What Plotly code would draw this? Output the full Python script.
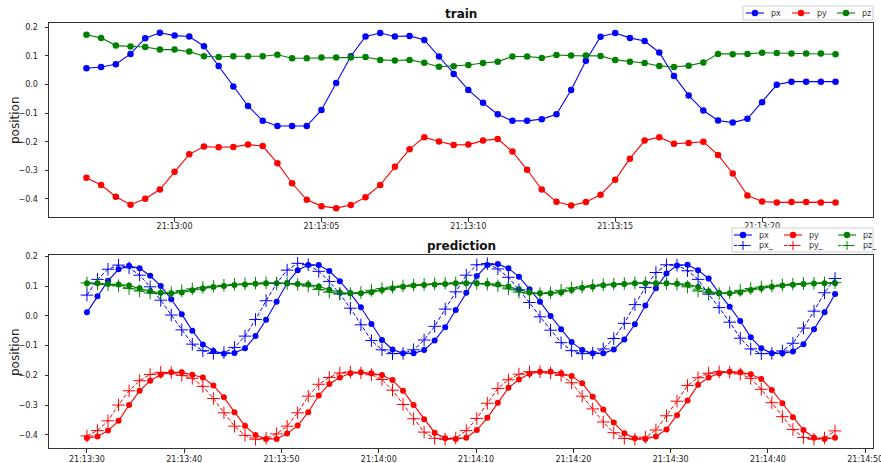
import pandas as pd
import plotly.graph_objects as go

W, H = 881, 463

# ---------------- data ----------------
train_time = pd.date_range("2021-01-01 21:12:57", periods=52, freq="500ms")
train_px = [0.057, 0.061, 0.071, 0.107, 0.162, 0.181, 0.171, 0.168, 0.134, 0.065,
            -0.007, -0.075, -0.127, -0.145, -0.145,
            -0.145, -0.089, 0.005, 0.099, 0.168, 0.180, 0.168, 0.170, 0.156, 0.098,
            0.037, -0.019, -0.064, -0.104, -0.127, -0.127, -0.121, -0.104, -0.019,
            0.083, 0.167, 0.180, 0.163, 0.152, 0.112, 0.030, -0.038, -0.091, -0.126,
            -0.133, -0.120, -0.062, -0.001, 0.010, 0.010, 0.010, 0.010]
train_py = [-0.326, -0.351, -0.392, -0.420, -0.399, -0.367, -0.305, -0.244, -0.217, -0.219,
            -0.218, -0.210, -0.215, -0.275, -0.345, -0.403, -0.425, -0.432, -0.421, -0.394,
            -0.351, -0.287, -0.226, -0.184, -0.199, -0.211, -0.210, -0.196, -0.190, -0.234,
            -0.298, -0.367, -0.410, -0.423,
            -0.411, -0.385, -0.333, -0.259, -0.196, -0.184, -0.207, -0.204, -0.200, -0.246,
            -0.311, -0.388, -0.409, -0.412, -0.411, -0.411, -0.412, -0.412]
train_pz = [0.174, 0.163, 0.136, 0.133, 0.131, 0.122, 0.122, 0.115, 0.099, 0.096,
            0.099, 0.099, 0.099, 0.104, 0.092, 0.092, 0.094, 0.094, 0.094, 0.096,
            0.086, 0.084, 0.086, 0.076, 0.062, 0.064, 0.068, 0.075, 0.080, 0.098,
            0.098, 0.093, 0.103, 0.101,
            0.101, 0.100, 0.086, 0.080, 0.075, 0.065, 0.061, 0.066, 0.077, 0.107,
            0.106, 0.107, 0.111, 0.110, 0.108, 0.108, 0.108, 0.106]

pred_time = pd.date_range("2021-01-01 21:13:30", "2021-01-01 21:14:46.9", periods=72)
pred_px = [0.012, 0.066, 0.118, 0.157, 0.169, 0.160, 0.135, 0.101, 0.056, 0.006,
           -0.050, -0.096, -0.118, -0.127, -0.125, -0.109, -0.068, -0.013, 0.048, 0.110,
           0.154, 0.171, 0.171, 0.151, 0.117, 0.076, 0.029, -0.027, -0.081, -0.113,
           -0.126, -0.126, -0.115, -0.083, -0.038, 0.020, 0.078, 0.134, 0.171,
           0.175, 0.160, 0.132, 0.090, 0.048, 0.000, -0.045, -0.088, -0.115, -0.126,
           -0.126, -0.113, -0.079, -0.028, 0.035, 0.093, 0.143, 0.170, 0.172,
           0.154, 0.126, 0.076, 0.031, -0.017, -0.072, -0.109, -0.126, -0.126, -0.120,
           -0.095, -0.045, 0.012, 0.074]
pred_py = [-0.411, -0.406, -0.386, -0.353, -0.300, -0.252, -0.218, -0.198, -0.190, -0.190,
           -0.198, -0.207, -0.234, -0.274, -0.324, -0.370, -0.401, -0.414, -0.414, -0.396,
           -0.369, -0.324, -0.268, -0.229, -0.207, -0.193, -0.190, -0.193, -0.199, -0.216,
           -0.252, -0.300, -0.348, -0.393, -0.412, -0.414, -0.410, -0.384, -0.343,
           -0.292, -0.242, -0.214, -0.195, -0.188, -0.188, -0.193, -0.202, -0.227, -0.272,
           -0.315, -0.359, -0.395, -0.412, -0.414, -0.406, -0.382, -0.334, -0.285,
           -0.232, -0.207, -0.193, -0.188, -0.190, -0.196, -0.212, -0.249, -0.294, -0.341,
           -0.384, -0.410, -0.414, -0.410]
pred_pz = [0.110, 0.110, 0.107, 0.106, 0.102, 0.093, 0.083, 0.078, 0.076, 0.079,
           0.086, 0.092, 0.097, 0.101, 0.104, 0.106, 0.108, 0.110, 0.110, 0.110,
           0.107, 0.106, 0.099, 0.088, 0.079, 0.076, 0.076, 0.080, 0.087, 0.093,
           0.098, 0.102, 0.104, 0.106, 0.107, 0.110, 0.110, 0.110, 0.108,
           0.106, 0.099, 0.090, 0.079, 0.076, 0.076, 0.079, 0.087, 0.095, 0.098,
           0.103, 0.105, 0.107, 0.110, 0.110, 0.110, 0.110, 0.108, 0.106,
           0.097, 0.083, 0.077, 0.076, 0.079, 0.087, 0.093, 0.098, 0.102, 0.105,
           0.107, 0.109, 0.110, 0.110]
pred_px_ = [0.070, 0.123, 0.157, 0.171, 0.162, 0.137, 0.098, 0.053, 0.003, -0.047,
            -0.095, -0.117, -0.126, -0.124, -0.106, -0.068, -0.012, 0.051, 0.109, 0.154,
            0.177, 0.172, 0.150, 0.116, 0.074, 0.026, -0.030, -0.083, -0.114, -0.127,
            -0.126, -0.114, -0.081, -0.035, 0.023, 0.081, 0.137, 0.172, 0.176,
            0.158, 0.130, 0.088, 0.045, -0.003, -0.048, -0.090, -0.117, -0.127, -0.125,
            -0.111, -0.076, -0.025, 0.038, 0.096, 0.146, 0.172, 0.171, 0.152,
            0.123, 0.073, 0.028, -0.021, -0.075, -0.111, -0.127, -0.126, -0.118, -0.092,
            -0.041, 0.016, 0.078, 0.126]
pred_py_ = [-0.404, -0.386, -0.353, -0.300, -0.252, -0.218, -0.197, -0.190, -0.191, -0.200,
            -0.210, -0.237, -0.278, -0.326, -0.371, -0.402, -0.415, -0.412, -0.397, -0.371,
            -0.326, -0.270, -0.230, -0.207, -0.192, -0.189, -0.192, -0.198, -0.214, -0.250,
            -0.298, -0.346, -0.391, -0.412, -0.415, -0.411, -0.386, -0.345, -0.294,
            -0.244, -0.215, -0.196, -0.188, -0.188, -0.192, -0.200, -0.225, -0.270, -0.313,
            -0.357, -0.393, -0.412, -0.415, -0.408, -0.384, -0.336, -0.287, -0.234,
            -0.208, -0.193, -0.188, -0.189, -0.195, -0.210, -0.247, -0.292, -0.339, -0.382,
            -0.409, -0.415, -0.411, -0.387]
pred_pz_ = [0.111, 0.108, 0.105, 0.101, 0.092, 0.084, 0.077, 0.075, 0.078, 0.085,
            0.091, 0.096, 0.100, 0.103, 0.106, 0.108, 0.110, 0.111, 0.111, 0.109,
            0.106, 0.100, 0.089, 0.080, 0.075, 0.075, 0.079, 0.086, 0.092, 0.097,
            0.101, 0.104, 0.106, 0.108, 0.110, 0.111, 0.111, 0.109, 0.107,
            0.101, 0.091, 0.080, 0.076, 0.075, 0.078, 0.086, 0.094, 0.098, 0.102,
            0.105, 0.107, 0.109, 0.111, 0.111, 0.111, 0.109, 0.107, 0.098,
            0.084, 0.078, 0.075, 0.078, 0.086, 0.092, 0.097, 0.101, 0.104, 0.107,
            0.109, 0.110, 0.111, 0.112]

train_names = ["px", "py", "pz"]
pred_names = ["px", "py", "pz"]
pred_names_ = ["px_", "py_", "pz_"]

BLUE, RED, GREEN = "#0000ff", "#ff0000", "#008000"
COLORS = [BLUE, RED, GREEN]
FONT = "DejaVu Sans"

fig = go.Figure()

for name, vals, col in zip(train_names, [train_px, train_py, train_pz], COLORS):
    fig.add_trace(go.Scatter(x=train_time, y=vals, name=name, mode="lines+markers",
                             line=dict(color=col, width=1.1),
                             marker=dict(size=6.5, color=col),
                             xaxis="x", yaxis="y", showlegend=False))

for name, vals, col in zip(pred_names, [pred_px, pred_py, pred_pz], COLORS):
    fig.add_trace(go.Scatter(x=pred_time, y=vals, name=name, mode="lines+markers",
                             line=dict(color=col, width=1.1),
                             marker=dict(size=6, color=col),
                             xaxis="x2", yaxis="y2", showlegend=False))

for name, vals, col in zip(pred_names_, [pred_px_, pred_py_, pred_pz_], COLORS):
    fig.add_trace(go.Scatter(x=pred_time, y=vals, name=name, mode="lines+markers",
                             line=dict(color=col, width=1, dash="4px,2px"),
                             marker=dict(size=9, color=col, symbol="cross-thin",
                                         line=dict(color=col, width=1)),
                             xaxis="x2", yaxis="y2", showlegend=False))

axis_common = dict(showline=True, mirror=True, linecolor="#333333", linewidth=1,
                   ticks="outside", ticklen=3.5, tickcolor="#333333", tickwidth=1,
                   showgrid=False, zeroline=False,
                   tickfont=dict(family=FONT, size=8, color="#222222"),
                   automargin=False)

xdom = [49 / W, 873 / W]
fig.update_layout(
    width=W, height=H,
    margin=dict(l=0, r=0, t=0, b=0),
    paper_bgcolor="white", plot_bgcolor="white",
    font=dict(family=FONT, color="#222222"),
    showlegend=False,
    xaxis=dict(domain=xdom, anchor="y", type="date",
               range=["2021-01-01 21:12:55.725", "2021-01-01 21:13:23.775"],
               tickformat="%H:%M:%S", dtick=5000, tick0="2021-01-01 21:13:00",
               **axis_common),
    yaxis=dict(domain=[1 - 217 / H, 1 - 23 / H], anchor="x",
               range=[-0.463, 0.215], dtick=0.1, tick0=0, tickformat=".1f",
               ticklabelstandoff=5, **axis_common),
    xaxis2=dict(domain=xdom, anchor="y2", type="date",
                range=["2021-01-01 21:13:26.1", "2021-01-01 21:14:50.8"],
                tickformat="%H:%M:%S", dtick=10000, tick0="2021-01-01 21:13:30",
                ticklabeloverflow="allow", **axis_common),
    yaxis2=dict(domain=[1 - 448 / H, 1 - 255 / H], anchor="x2",
                range=[-0.4445, 0.205], dtick=0.1, tick0=0, tickformat=".1f",
                ticklabelstandoff=5, **axis_common),
)
try:
    fig.update_layout(xaxis_ticklabelstandoff=-2)
except Exception:
    pass


def X(p):
    return p / W


def Y(p):
    return 1 - p / H


# ---------------- legends (drawn as layout decorations) ----------------
def legend_box(x0, x1, y0, y1):
    fig.add_shape(type="rect", xref="paper", yref="paper", layer="above",
                  x0=X(x0), x1=X(x1), y0=Y(y1), y1=Y(y0),
                  line=dict(color="#d0d0d0", width=1), fillcolor="white")


def legend_item(x_line0, yc, col, label, marker="circle", dash="solid"):
    fig.add_shape(type="line", xref="paper", yref="paper", layer="above",
                  x0=X(x_line0), x1=X(x_line0 + 18), y0=Y(yc), y1=Y(yc),
                  line=dict(color=col, width=1.1, dash=dash))
    cx = x_line0 + 9
    if marker == "circle":
        r = 3.2
        fig.add_shape(type="circle", xref="paper", yref="paper", layer="above",
                      x0=X(cx - r), x1=X(cx + r), y0=Y(yc + r), y1=Y(yc - r),
                      line=dict(color=col, width=0), fillcolor=col)
    else:
        r = 4.5
        fig.add_shape(type="line", xref="paper", yref="paper", layer="above",
                      x0=X(cx - r), x1=X(cx + r), y0=Y(yc), y1=Y(yc),
                      line=dict(color=col, width=1))
        fig.add_shape(type="line", xref="paper", yref="paper", layer="above",
                      x0=X(cx), x1=X(cx), y0=Y(yc - r), y1=Y(yc + r),
                      line=dict(color=col, width=1))
    fig.add_annotation(text=label, x=X(x_line0 + 23), y=Y(yc), xref="paper", yref="paper",
                       xanchor="left", yanchor="middle", showarrow=False,
                       font=dict(family=FONT, size=8, color="#333333"))


legend_box(743, 873, 6, 20)
for x0, col, lab in zip([746, 792, 837], COLORS, train_names):
    legend_item(x0, 13, col, lab)

legend_box(732, 873, 228, 252)
for x0, col, lab in zip([734, 784, 838], COLORS, pred_names):
    legend_item(x0, 235, col, lab)
for x0, col, lab in zip([734, 784, 838], COLORS, pred_names_):
    legend_item(x0, 245.5, col, lab, marker="cross", dash="3px,1.5px")

# ---------------- titles ----------------
fig.add_annotation(text="<b>train</b>", x=X(461), y=Y(13.5), xref="paper", yref="paper",
                   xanchor="center", yanchor="middle", showarrow=False,
                   font=dict(family=FONT, size=12, color="#111111"))
fig.add_annotation(text="<b>prediction</b>", x=X(461), y=Y(246), xref="paper", yref="paper",
                   xanchor="center", yanchor="middle", showarrow=False,
                   font=dict(family=FONT, size=12, color="#111111"))
for yc in (120, 352):
    fig.add_annotation(text="position", x=X(15), y=Y(yc), xref="paper", yref="paper",
                       xanchor="center", yanchor="middle", showarrow=False, textangle=-90,
                       font=dict(family=FONT, size=12, color="#222222"))

fig.write_html("out.html",
               config={"displayModeBar": False},
               post_script="document.body.style.margin='0';document.body.style.overflow='hidden';")
